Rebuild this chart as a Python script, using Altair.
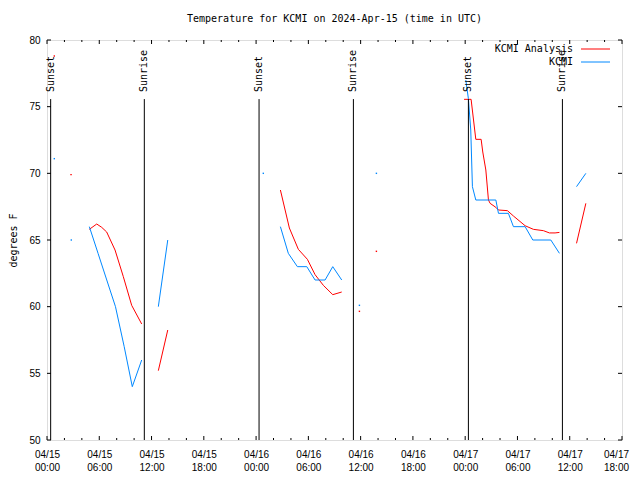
import json
import altair as alt
import pandas as pd

FONT = "DejaVu Sans Mono"
TITLE = "Temperature for KCMI on 2024-Apr-15 (time in UTC)"

# hours since 2024-04-15 00:00 UTC; one inner list per unbroken segment
analysis_times = [
    [0.84], [2.76],
    [4.86, 5.71, 6.28, 6.85, 7.81, 8.76, 9.72, 10.87],
    [12.78, 13.86],
    [26.79, 27.82, 28.85, 29.89, 30.77, 31.72, 32.80, 33.83],
    [35.86], [37.81],
    [47.87, 48.68, 49.22, 49.83, 50.02, 50.37, 50.67, 50.86, 51.52, 51.82,
     52.85, 53.54, 54.88, 55.83, 56.98, 57.67, 58.32, 58.82],
    [60.78, 61.85],
]
analysis_temps = [
    [78.8], [69.9],
    [65.8, 66.2, 65.95, 65.6, 64.25, 62.25, 60.1, 58.7],
    [55.2, 58.25],
    [68.75, 65.9, 64.3, 63.55, 62.4, 61.6, 60.9, 61.1],
    [59.65], [64.15],
    [75.55, 75.55, 72.55, 72.55, 71.6, 70.25, 68.0, 67.75, 67.45, 67.25,
     67.2, 66.8, 66.07, 65.8, 65.7, 65.53, 65.53, 65.57],
    [64.75, 67.75],
]
kcmi_times = [
    [0.84], [2.79],
    [4.86, 5.86, 6.86, 7.86, 8.86, 9.79, 10.87],
    [12.78, 13.86],
    [24.83],
    [26.79, 27.70, 28.74, 29.82, 30.77, 31.92, 32.80, 33.83],
    [35.86], [37.81],
    [48.07, 48.37, 48.64, 48.83, 49.22, 51.52, 51.82, 52.96, 53.54, 54.88,
     55.76, 57.83, 58.82],
    [60.78, 61.85],
]
kcmi_temps = [
    [71.1], [65.0],
    [66, 64, 62, 60, 57, 54, 56],
    [60, 65],
    [70],
    [66, 64, 63, 63, 62, 62, 63, 62],
    [60.1], [70],
    [77, 75.6, 73.25, 69, 68, 68, 67, 67, 66, 66, 65, 65, 64],
    [69, 70],
]

sun_times = [0.42, 11.17, 24.34, 35.17, 48.37, 59.16]
sun_labels = ["Sunset", "Sunrise", "Sunset", "Sunrise", "Sunset", "Sunrise"]

x_major = list(range(0, 67, 6))
x_minor = [h for h in range(0, 67, 2) if h % 6]
x_tick_labels = [
    ["04/15", "00:00"], ["04/15", "06:00"], ["04/15", "12:00"], ["04/15", "18:00"],
    ["04/16", "00:00"], ["04/16", "06:00"], ["04/16", "12:00"], ["04/16", "18:00"],
    ["04/17", "00:00"], ["04/17", "06:00"], ["04/17", "12:00"], ["04/17", "18:00"],
]
y_major = [50, 55, 60, 65, 70, 75, 80]

series_names = ["KCMI Analysis", "KCMI"]
series_colors = ["#ff0000", "#0088ff"]

rows = []
for name, tt, vv in [(series_names[0], analysis_times, analysis_temps),
                     (series_names[1], kcmi_times, kcmi_temps)]:
    for i, (ts, vs) in enumerate(zip(tt, vv)):
        for t, v in zip(ts, vs):
            rows.append({"series": name, "seg": f"{name}-{i}", "t": t, "v": v, "n": len(ts)})
df = pd.DataFrame(rows)
df_single = df[df["n"] == 1]
df_sun = pd.DataFrame({"t": sun_times, "label": sun_labels})

xs = alt.Scale(domain=[0, 66], nice=False, zero=False)
ys = alt.Scale(domain=[50, 80], nice=False, zero=False)
cs = alt.Scale(domain=series_names, range=series_colors)

label_expr = json.dumps(x_tick_labels) + "[round(datum.value / 6)]"

X_AXIS = alt.Axis(
    values=x_major, labelExpr=label_expr, title=None, ticks=False, tickSize=0,
    domain=False, grid=False, labelPadding=9, labelLineHeight=13,
    labelFlush=False, labelOverlap=False,
    labelOffset={"condition": {"test": f"datum.value >= {x_major[-1]}", "value": -6},
                 "value": 0})
Y_AXIS = alt.Axis(
    values=y_major, title="degrees F", ticks=False, tickSize=0, domain=False,
    grid=False, labelPadding=7, format="d", titleX=-34, titleAngle=270,
    titleBaseline="middle", titleAlign="center", titleFontWeight="normal",
    titleFont=FONT, titleFontSize=10)


def X(field="t:Q"):
    return alt.X(field, scale=xs, axis=X_AXIS, title=None)


def Y(field="v:Q"):
    return alt.Y(field, scale=ys, axis=Y_AXIS, title="degrees F")


def XD(v):
    return alt.datum(v, scale=xs, axis=X_AXIS, title=None)


def YD(v):
    return alt.datum(v, scale=ys, axis=Y_AXIS, title="degrees F")


lines = alt.Chart(df).mark_line(strokeWidth=1, clip=True).encode(
    x=X(), y=Y(), detail="seg:N",
    color=alt.Color("series:N", scale=cs, legend=None),
)

dots = alt.Chart(df_single).mark_square(size=2, opacity=1, clip=True).encode(
    x=X(), y=Y(), color=alt.Color("series:N", scale=cs, legend=None),
)

sun_rules = alt.Chart(df_sun).mark_rule(color="black", strokeWidth=1).encode(
    x=X(), y=YD(50), y2=alt.datum(75.57),
)
sun_text = alt.Chart(df_sun).mark_text(
    angle=270, align="left", baseline="middle", font=FONT, fontSize=10, color="black"
).encode(x=X(), y=YD(76.1), text="label:N")

df_xmaj = pd.DataFrame({"t": x_major})
df_xmin = pd.DataFrame({"t": x_minor})
df_ymaj = pd.DataFrame({"v": y_major})


def xticks(d, length):
    bot = alt.Chart(d).mark_rule(color="black", y2Offset=-length).encode(
        x=X(), y=YD(50), y2=alt.datum(50))
    top = alt.Chart(d).mark_rule(color="black", y2Offset=length).encode(
        x=X(), y=YD(80), y2=alt.datum(80))
    return [bot, top]


yl = alt.Chart(df_ymaj).mark_rule(color="black", x2Offset=4).encode(
    y=Y(), x=XD(0), x2=alt.datum(0))
yr = alt.Chart(df_ymaj).mark_rule(color="black", x2Offset=-4).encode(
    y=Y(), x=XD(66), x2=alt.datum(66))

one = pd.DataFrame({"k": [0]})
legend_layers = []
for i, (name, col) in enumerate(zip(series_names, series_colors)):
    legend_layers.append(alt.Chart(one).mark_text(
        align="right", baseline="middle", font=FONT, fontSize=10, color="black"
    ).encode(x=alt.value(526), y=alt.value(9 + 13 * i), text=alt.value(name)))
    legend_layers.append(alt.Chart(one).mark_rule(color=col, strokeWidth=1).encode(
        x=alt.value(534), x2=alt.value(563), y=alt.value(9 + 13 * i)))

chart = alt.layer(
    lines, dots, sun_rules, sun_text, *xticks(df_xmaj, 4), *xticks(df_xmin, 2), yl, yr,
    *legend_layers,
).properties(
    width=575, height=400,
    padding={"left": 39, "top": 32, "right": 10, "bottom": 32},
    autosize=alt.AutoSizeParams(type="none"),
    title=alt.TitleParams(TITLE, font=FONT, fontSize=10, fontWeight="normal",
                          anchor="middle", frame="group", offset=11, color="black"),
).configure_view(
    stroke="black", strokeWidth=1
).configure_axis(
    labelFont=FONT, titleFont=FONT, labelFontSize=10, titleFontSize=10,
    titleFontWeight="normal", labelColor="black", titleColor="black"
).configure(background="white")

chart.save("out.html", embed_options={"renderer": "svg", "actions": False})
